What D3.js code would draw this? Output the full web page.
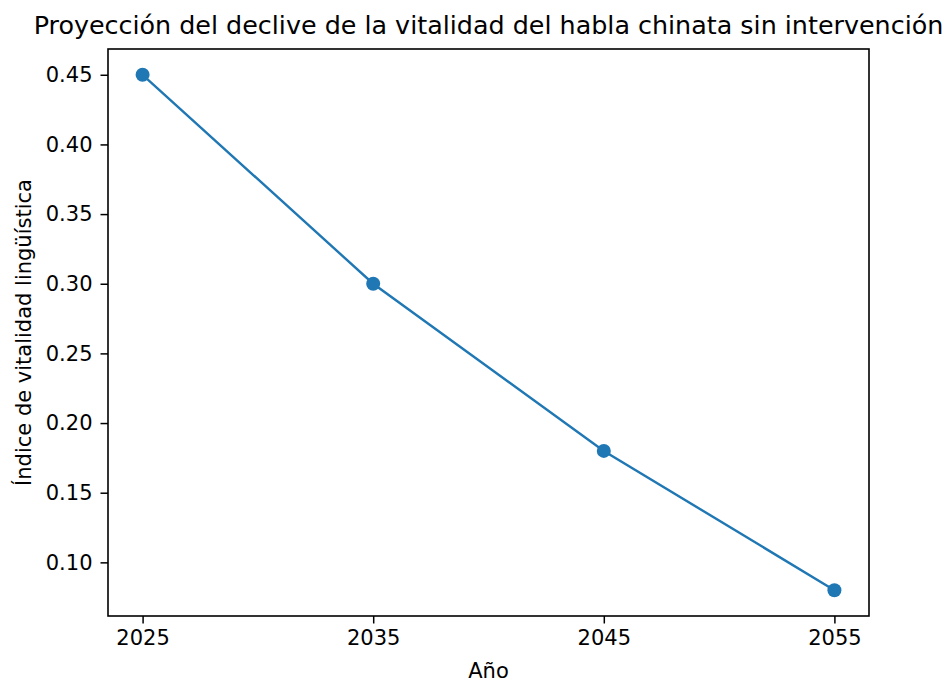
<!DOCTYPE html>
<html>
<head>
<meta charset="utf-8">
<script src="https://cdn.jsdelivr.net/npm/d3@7"></script>
<style>
  body { margin: 0; background: #fff; }
  text { font-family: "DejaVu Sans", sans-serif; fill: #000; }
</style>
</head>
<body>
<div id="chart"></div>
<script>
var width = 952,
    height = 693;

// data
var years = [2025, 2035, 2045, 2055];
var vitality = [0.45, 0.30, 0.18, 0.08];
var yTicks = [0.10, 0.15, 0.20, 0.25, 0.30, 0.35, 0.40, 0.45];
var titleText = "Proyección del declive de la vitalidad del habla chinata sin intervención";
var xLabel = "Año";
var yLabel = "Índice de vitalidad lingüística";

var plot = { left: 108, top: 49, right: 869, bottom: 616 };

var svg = d3.select("#chart").append("svg")
    .attr("width", width)
    .attr("height", height);

// matplotlib style 5% margins
var xPad = (d3.max(years) - d3.min(years)) * 0.05;
var yPad = (d3.max(vitality) - d3.min(vitality)) * 0.05;

var x = d3.scaleLinear()
    .domain([d3.min(years) - xPad, d3.max(years) + xPad])
    .range([plot.left, plot.right]);
var y = d3.scaleLinear()
    .domain([d3.min(vitality) - yPad, d3.max(vitality) + yPad])
    .range([plot.bottom, plot.top]);

var xAxis = d3.axisBottom(x)
    .tickValues(years)
    .tickFormat(d3.format("d"))
    .tickSize(7.5)
    .tickPadding(7);
var yAxis = d3.axisLeft(y)
    .tickValues(yTicks)
    .tickFormat(d3.format(".2f"))
    .tickSize(7.5)
    .tickPadding(8);

var gx = svg.append("g")
    .attr("transform", "translate(0," + plot.bottom + ")")
    .call(xAxis);
var gy = svg.append("g")
    .attr("transform", "translate(" + plot.left + ",0)")
    .call(yAxis);

[gx, gy].forEach(function (g) {
    g.select(".domain").remove();
    g.selectAll(".tick line").attr("stroke", "#000").attr("stroke-width", 1.5);
    g.selectAll(".tick text")
        .attr("font-size", 21)
        .attr("font-family", "DejaVu Sans")
        .attr("fill", "#1a1a1a");
});

// frame
svg.append("rect")
    .attr("x", plot.left)
    .attr("y", plot.top)
    .attr("width", plot.right - plot.left)
    .attr("height", plot.bottom - plot.top)
    .attr("fill", "none")
    .attr("stroke", "#000")
    .attr("stroke-width", 1.6);

var pts = years.map(function (d, i) { return { yr: d, v: vitality[i] }; });

var line = d3.line()
    .x(function (d) { return x(d.yr); })
    .y(function (d) { return y(d.v); });

svg.append("path")
    .datum(pts)
    .attr("d", line)
    .attr("fill", "none")
    .attr("stroke", "#1f77b4")
    .attr("stroke-width", 2.4);

svg.selectAll(".dot")
    .data(pts)
    .enter()
    .append("circle")
    .attr("class", "dot")
    .attr("cx", function (d) { return x(d.yr); })
    .attr("cy", function (d) { return y(d.v); })
    .attr("r", 7)
    .attr("fill", "#1f77b4");

// title and axis labels
svg.append("text")
    .attr("x", (plot.left + plot.right) / 2)
    .attr("y", 34)
    .attr("text-anchor", "middle")
    .attr("font-size", 25.4)
    .attr("fill", "#1a1a1a")
    .text(titleText);

svg.append("text")
    .attr("x", (plot.left + plot.right) / 2)
    .attr("y", 678)
    .attr("text-anchor", "middle")
    .attr("font-size", 21)
    .attr("fill", "#1a1a1a")
    .text(xLabel);

svg.append("text")
    .attr("transform", "translate(31," + (plot.top + plot.bottom) / 2 + ") rotate(-90)")
    .attr("text-anchor", "middle")
    .attr("font-size", 21)
    .attr("fill", "#1a1a1a")
    .text(yLabel);
</script>
</body>
</html>
